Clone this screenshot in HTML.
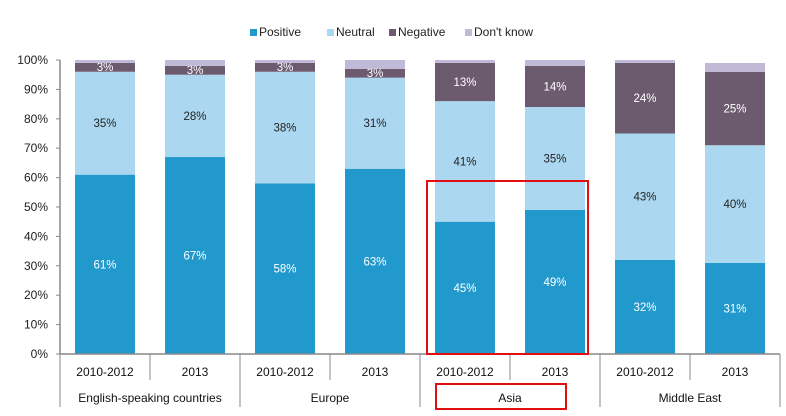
<!DOCTYPE html>
<html><head><meta charset="utf-8">
<style>
html,body{margin:0;padding:0;background:#fff;}
svg{display:block;font-family:"Liberation Sans",sans-serif;}
</style></head>
<body>
<svg id="chart" width="786" height="416" viewBox="0 0 786 416" xmlns="http://www.w3.org/2000/svg"></svg>
<script>
const years = ["2010-2012","2013","2010-2012","2013","2010-2012","2013","2010-2012","2013"];
const groups = ["English-speaking countries","Europe","Asia","Middle East"];
const positive = [61,67,58,63,45,49,32,31];
const neutral = [35,28,38,31,41,35,43,40];
const negative = [3,3,3,3,13,14,24,25];
const dontKnow = [1,2,1,3,1,2,1,3];
const seriesNames = ["Positive","Neutral","Negative","Don't know"];
const yTicks = [0,10,20,30,40,50,60,70,80,90,100];

const colors = ["#2199cc","#acd7f1","#6c5a6f","#c0bad8"];
const svg = document.getElementById('chart');
const NS = "http://www.w3.org/2000/svg";
const x0 = 60, slot = 90, barW = 60, yTop = 60, yBot = 354;
const yScale = v => yBot - (yBot - yTop) * v / 100;
const xScale = i => x0 + i * slot;
function mk(tag, attrs, text){
  const e = document.createElementNS(NS, tag);
  for (const k in attrs) e.setAttribute(k, attrs[k]);
  if (text !== undefined) e.textContent = text;
  svg.appendChild(e);
  return e;
}

// legend
const legX = [250,327,389,465];
seriesNames.forEach((n,i)=>{
  const r = mk('rect',{x:legX[i],y:29,width:7,height:7,fill:colors[i]});
  
  
  const t = mk('text',{x:legX[i]+9,y:36,'font-size':12,fill:'#222'},n);
  
  
});

// y axis
const ya = mk('line',{x1:x0,y1:yTop,x2:x0,y2:yBot,stroke:'#888','stroke-width':1.5});


yTicks.forEach(v=>{
  const y = yScale(v);
  mk('line',{x1:x0-4,y1:y,x2:x0,y2:y,stroke:'#888'});
  const t = mk('text',{x:48,y:y+4,'font-size':12,'text-anchor':'end',fill:'#222'},v+'%');
  
  
});

// bars
const all = [positive,neutral,negative,dontKnow];
years.forEach((yr,i)=>{
  let cum = 0;
  all.forEach((ser,s)=>{
    const v = ser[i];
    const yA = yScale(cum+v), yB = yScale(cum);
    const r = mk('rect',{x:xScale(i)+15,y:yA,width:barW,height:yB-yA,fill:colors[s]});
    
    
    if (s < 3) {
      const col = (s===1) ? '#222' : '#fff';
      const ty = (s===2 && v<5) ? yA+8 : (yA+yB)/2+4;
      const t = mk('text',{x:xScale(i)+45,y:ty,'font-size':11.5,'text-anchor':'middle',fill:col},v+'%');
      
      
    }
    cum += v;
  });
});

// x axis
const xa = mk('line',{x1:x0,y1:yBot,x2:780,y2:yBot,stroke:'#888','stroke-width':1.5});


for (let i=0;i<=years.length;i++){
  const isGroup = i%2===0;
  mk('line',{x1:xScale(i),y1:yBot,x2:xScale(i),y2:isGroup?407:380,stroke:'#888'});
}
years.forEach((yr,i)=>{
  const t = mk('text',{x:xScale(i)+45,y:376,'font-size':12,'text-anchor':'middle',fill:'#111'},yr);
  
  
});
groups.forEach((g,i)=>{
  const t = mk('text',{x:xScale(2*i)+90,y:402,'font-size':12,'text-anchor':'middle',fill:'#111'},g);
  
  
});

// highlight boxes
const hb1 = mk('rect',{x:427,y:181,width:161,height:173,fill:'none',stroke:'#e01010','stroke-width':2});


const hb2 = mk('rect',{x:436,y:384,width:130,height:25,fill:'none',stroke:'#e01010','stroke-width':2});


</script>
</body></html>
